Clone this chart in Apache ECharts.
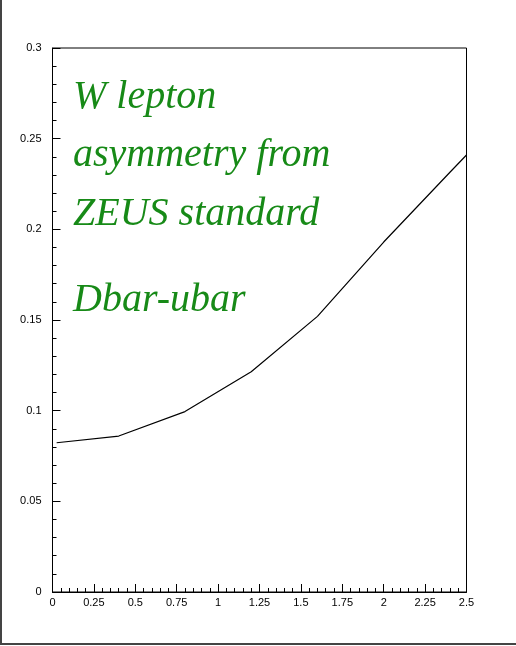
<!DOCTYPE html>
<html>
<head>
<meta charset="utf-8">
<script src="https://cdn.jsdelivr.net/npm/echarts@6/dist/echarts.min.js"></script>
<style>
  html, body { margin: 0; padding: 0; background: #fff; }
  #chart { width: 516px; height: 646px; }
</style>
</head>
<body>
<div id="chart"></div>
<script>
// W lepton asymmetry vs. lepton rapidity
const rapidity = [0.025, 0.4, 0.8, 1.2, 1.6, 2.0, 2.4, 2.5];
const asymmetry = [0.0823, 0.086, 0.0995, 0.1215, 0.152, 0.193, 0.2315, 0.241];
const titleLines = ['W lepton', 'asymmetry from', 'ZEUS standard', 'Dbar-ubar'];
const titleTops = [77, 135, 194, 280];

const chart = echarts.init(document.getElementById('chart'), null, { renderer: 'canvas' });

const axisFont = { fontFamily: 'Liberation Sans', fontSize: 11, color: '#000' };

const titleTexts = titleLines.map((line, i) => ({
  type: 'text', left: 73, top: titleTops[i],
  style: {
    text: line,
    fill: '#178a17',
    font: 'italic 40px "Liberation Serif"'
  }
}));

chart.setOption({
  animation: false,
  backgroundColor: '#fff',
  grid: {
    left: 52.5, right: 49.5, top: 48, bottom: 54,
    show: true, borderColor: '#000', borderWidth: 1, backgroundColor: 'transparent'
  },
  xAxis: {
    type: 'value', min: 0, max: 2.5, interval: 0.25,
    axisLine: { show: true, onZero: false, lineStyle: { color: '#000', width: 1 } },
    axisTick: { show: true, inside: true, length: 8, lineStyle: { color: '#000' } },
    minorTick: { show: true, splitNumber: 5, length: 4, lineStyle: { color: '#000' } },
    splitLine: { show: false },
    axisLabel: Object.assign({ margin: 5 }, axisFont)
  },
  yAxis: {
    type: 'value', min: 0, max: 0.3, interval: 0.05,
    axisLine: { show: true, onZero: false, lineStyle: { color: '#000', width: 1 } },
    axisTick: { show: true, inside: true, length: 8, lineStyle: { color: '#000' } },
    minorTick: { show: true, splitNumber: 5, length: 4, lineStyle: { color: '#000' } },
    splitLine: { show: false },
    axisLabel: Object.assign({ margin: 11 }, axisFont)
  },
  series: [{
    type: 'line',
    data: rapidity.map((x, i) => [x, asymmetry[i]]),
    showSymbol: false,
    smooth: false,
    lineStyle: { color: '#000', width: 1.2 }
  }],
  graphic: [
    { type: 'line', shape: { x1: 1, y1: 0, x2: 1, y2: 644 }, style: { stroke: '#444', lineWidth: 2 } },
    { type: 'line', shape: { x1: 0, y1: 644, x2: 516, y2: 644 }, style: { stroke: '#444', lineWidth: 2 } }
  ].concat(titleTexts)
});
</script>
</body>
</html>
